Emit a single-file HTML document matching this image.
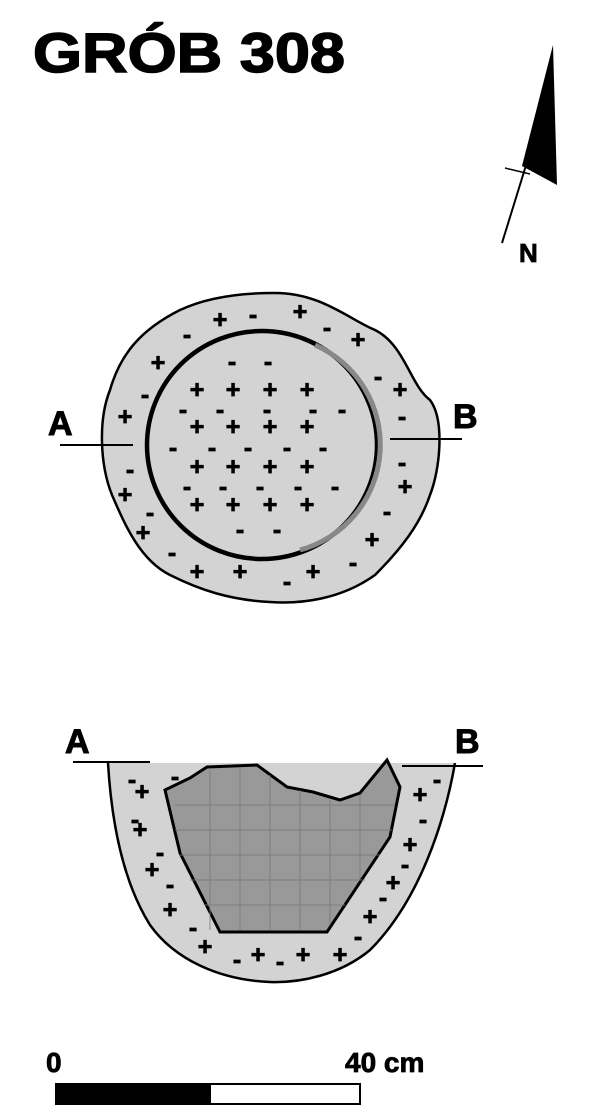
<!DOCTYPE html>
<html><head><meta charset="utf-8"><style>
html,body{margin:0;padding:0;background:#fff;}
svg{display:block;}
text{font-family:"Liberation Sans",sans-serif;font-weight:bold;fill:#000;}
.s{font-size:25px;text-anchor:middle;dominant-baseline:central;stroke:#000;stroke-width:0.8;}
</style></head><body>
<svg width="600" height="1116" viewBox="0 0 600 1116" xmlns="http://www.w3.org/2000/svg">
<text x="33" y="72" font-size="56" textLength="312" lengthAdjust="spacingAndGlyphs" stroke="#000" stroke-width="1.5">GRÓB 308</text>
<!-- north arrow -->
<polygon points="553,45 522,166 557,185" fill="#000"/>
<line x1="502" y1="243" x2="540" y2="120" stroke="#000" stroke-width="2"/>
<line x1="505" y1="168" x2="530" y2="174" stroke="#000" stroke-width="1.5"/>
<text x="519" y="262" font-size="26" stroke="#000" stroke-width="0.8">N</text>

<!-- plan -->
<path d="M273,293 C320,292 350,320 375,330 C405,345 410,385 430,400 C445,420 440,470 430,495 C420,525 400,550 375,575 C340,600 300,604 270,602 C230,600 200,590 170,575 C140,560 125,525 112,495 C100,465 98,420 110,390 C120,355 140,330 180,310 C210,296 245,293 273,293 Z" fill="#d3d3d3" stroke="#000" stroke-width="2.5"/>
<ellipse cx="262" cy="445" rx="115" ry="114" fill="none" stroke="#000" stroke-width="4.5"/>
<path d="M315,345 A109,109 0 0 1 300,550" fill="none" stroke="#888" stroke-width="5"/>
<line x1="60" y1="445" x2="133" y2="445" stroke="#000" stroke-width="2"/>
<line x1="390" y1="439" x2="462" y2="439" stroke="#000" stroke-width="2"/>
<text x="48" y="435" font-size="34" stroke="#000" stroke-width="1">A</text>
<text x="453" y="428" font-size="34" stroke="#000" stroke-width="1">B</text>

<g>
<text class="s" x="220" y="320">+</text><text class="s" x="253" y="315">-</text><text class="s" x="300" y="312">+</text><text class="s" x="327" y="328">-</text><text class="s" x="358" y="340">+</text><text class="s" x="187" y="335">-</text><text class="s" x="158" y="363">+</text><text class="s" x="145" y="395">-</text><text class="s" x="125" y="417">+</text><text class="s" x="378" y="377">-</text><text class="s" x="400" y="390">+</text><text class="s" x="402" y="417">-</text><text class="s" x="402" y="463">-</text><text class="s" x="405" y="487">+</text><text class="s" x="387" y="512">-</text><text class="s" x="372" y="540">+</text><text class="s" x="353" y="563">-</text><text class="s" x="313" y="572">+</text><text class="s" x="287" y="582">-</text><text class="s" x="240" y="572">+</text><text class="s" x="197" y="572">+</text><text class="s" x="172" y="553">-</text><text class="s" x="143" y="533">+</text><text class="s" x="150" y="513">-</text><text class="s" x="125" y="495">+</text><text class="s" x="130" y="470">-</text>
<text class="s" x="197" y="390">+</text><text class="s" x="233" y="390">+</text><text class="s" x="270" y="390">+</text><text class="s" x="307" y="390">+</text>
<text class="s" x="197" y="427">+</text><text class="s" x="233" y="427">+</text><text class="s" x="270" y="427">+</text><text class="s" x="307" y="427">+</text>
<text class="s" x="197" y="467">+</text><text class="s" x="233" y="467">+</text><text class="s" x="270" y="467">+</text><text class="s" x="307" y="467">+</text>
<text class="s" x="197" y="505">+</text><text class="s" x="233" y="505">+</text><text class="s" x="270" y="505">+</text><text class="s" x="307" y="505">+</text>
<text class="s" x="232" y="362">-</text><text class="s" x="268" y="362">-</text>
<text class="s" x="183" y="410">-</text><text class="s" x="220" y="410">-</text><text class="s" x="267" y="410">-</text><text class="s" x="313" y="410">-</text><text class="s" x="342" y="410">-</text>
<text class="s" x="173" y="448">-</text><text class="s" x="212" y="448">-</text><text class="s" x="248" y="448">-</text><text class="s" x="287" y="448">-</text><text class="s" x="323" y="448">-</text>
<text class="s" x="187" y="487">-</text><text class="s" x="223" y="487">-</text><text class="s" x="260" y="487">-</text><text class="s" x="298" y="487">-</text><text class="s" x="335" y="487">-</text>
<text class="s" x="240" y="530">-</text><text class="s" x="277" y="530">-</text>
</g>

<!-- section -->
<path d="M108,763 L455,763 C445,820 420,900 370,950 C340,975 300,983 270,982 C220,980 175,960 150,925 C125,885 112,830 108,763 Z" fill="#d3d3d3"/>
<path d="M108,763 C112,830 125,885 150,925 C175,960 220,980 270,982 C300,983 340,975 370,950 C420,900 445,820 455,763" fill="none" stroke="#000" stroke-width="2.5"/>
<polygon points="165,790 190,778 207,767 257,765 287,787 313,792 340,800 360,793 387,760 400,787 390,837 327,932 220,932 180,853" fill="#999" stroke="#000" stroke-width="3"/>
<g stroke="#777" stroke-width="1" opacity="0.8">
<line x1="175" y1="805" x2="395" y2="805"/><line x1="175" y1="830" x2="392" y2="830"/><line x1="180" y1="855" x2="380" y2="855"/><line x1="190" y1="880" x2="365" y2="880"/><line x1="205" y1="905" x2="345" y2="905"/>
<line x1="210" y1="770" x2="210" y2="930"/><line x1="240" y1="768" x2="240" y2="930"/><line x1="270" y1="775" x2="270" y2="930"/><line x1="300" y1="790" x2="300" y2="930"/><line x1="330" y1="800" x2="330" y2="925"/><line x1="360" y1="795" x2="360" y2="880"/>
</g>
<line x1="73" y1="762" x2="150" y2="762" stroke="#000" stroke-width="2"/>
<line x1="402" y1="766" x2="483" y2="766" stroke="#000" stroke-width="2"/>
<text x="65" y="753" font-size="34" stroke="#000" stroke-width="1">A</text>
<text x="455" y="753" font-size="34" stroke="#000" stroke-width="1">B</text>
<g>
<text class="s" x="132" y="780">-</text><text class="s" x="142" y="792">+</text><text class="s" x="175" y="777">-</text><text class="s" x="135" y="820">-</text><text class="s" x="140" y="830">+</text><text class="s" x="160" y="853">-</text><text class="s" x="152" y="870">+</text><text class="s" x="170" y="885">-</text><text class="s" x="170" y="910">+</text><text class="s" x="193" y="928">-</text><text class="s" x="205" y="947">+</text><text class="s" x="237" y="960">-</text><text class="s" x="258" y="955">+</text><text class="s" x="280" y="962">-</text><text class="s" x="303" y="955">+</text><text class="s" x="340" y="955">+</text><text class="s" x="358" y="937">-</text><text class="s" x="370" y="917">+</text><text class="s" x="383" y="898">-</text><text class="s" x="393" y="883">+</text><text class="s" x="405" y="865">-</text><text class="s" x="410" y="845">+</text><text class="s" x="423" y="820">-</text><text class="s" x="420" y="795">+</text><text class="s" x="437" y="780">-</text>
</g>

<!-- scale -->
<text x="46" y="1072" font-size="28" stroke="#000" stroke-width="0.8">0</text>
<text x="345" y="1072" font-size="28" stroke="#000" stroke-width="0.8">40 cm</text>
<rect x="55" y="1083" width="155" height="22" fill="#000"/>
<rect x="210" y="1084" width="150" height="20" fill="#fff" stroke="#000" stroke-width="2"/>
</svg>
</body></html>
